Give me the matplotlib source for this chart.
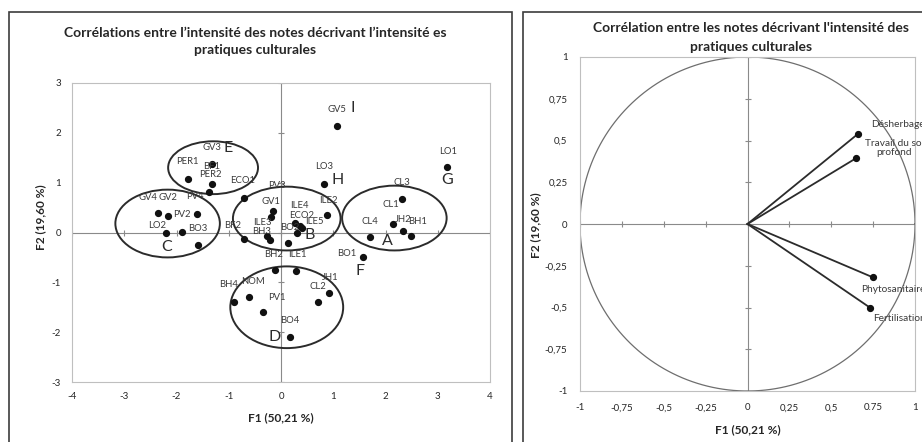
import numpy as np
import matplotlib
matplotlib.use("Agg")
import matplotlib.pyplot as plt
from matplotlib.patches import Ellipse, Rectangle

plt.rcParams['font.family'] = ['Lato', 'DejaVu Sans']
plt.rcParams['axes.unicode_minus'] = False

# --- Observations on the first two factors (F1, F2) ---
obs_names = ["PER1", "GV3", "BF1", "PER2", "ECO1",
             "GV4", "GV2", "PV4", "PV2", "LO2", "BO3",
             "BF2", "GV1", "PV3", "ILE3", "BH3", "ILE4", "ECO2", "ILE5", "", "BO2", "ILE2",
             "CL3", "CL1", "JH2", "BH1", "CL4", "BO1", "LO1", "LO3", "GV5",
             "BH2", "ILE1", "JH1", "CL2", "BH4", "NOM", "PV1", "BO4"]
obs_f1 = [-1.78, -1.32, -1.32, -1.38, -0.71,
          -2.35, -2.16, -1.61, -1.89, -2.20, -1.59,
          -0.71, -0.19, -0.15, -0.27, -0.21, 0.27, 0.36, 0.40, 0.31, 0.13, 0.88,
          2.31, 2.14, 2.33, 2.49, 1.70, 1.57, 3.17, 0.82, 1.07,
          -0.11, 0.29, 0.92, 0.71, -0.90, -0.61, -0.35, 0.17]
obs_f2 = [1.08, 1.38, 0.98, 0.82, 0.70,
          0.40, 0.34, 0.38, 0.02, 0.00, -0.26,
          -0.14, 0.32, 0.44, -0.08, -0.16, 0.20, 0.14, 0.10, 0.00, -0.22, 0.36,
          0.68, 0.18, 0.04, -0.08, -0.10, -0.50, 1.32, 0.98, 2.14,
          -0.76, -0.78, -1.22, -1.40, -1.40, -1.30, -1.60, -2.10]

# label offsets from their point, in pixels (dx, dy up)
label_offsets = [(-1, 17), (0, 16), (0, 17), (1, 17), (-1, 17),
                 (-10, 15), (0, 18), (-2, 17), (0, 17), (-9, 7), (0, 17),
                 (-11, 14), (0, 15), (4, 25), (-5, 14), (-8, 9), (4, 17), (2, 10), (12, 6), (0, 0), (2, 16), (1, 14),
                 (0, 16), (-2, 19), (1, 11), (6, 15), (0, 16), (-16, 4), (1, 15), (0, 17), (0, 16),
                 (-2, 16), (1, 17), (1, 16), (0, 16), (-5, 18), (4, 16), (14, 15), (0, 17)]

# --- Groups ---
group_letters = ["A", "B", "C", "D", "E", "F", "G", "H", "I"]
letter_f1 = [2.03, 0.55, -2.18, -0.13, -1.01, 1.51, 3.17, 1.09, 1.38]
letter_f2 = [-0.18, -0.05, -0.30, -2.10, 1.70, -0.78, 1.06, 1.06, 2.50]

ellipse_center_f1 = [2.17, 0.11, -2.17, 0.11, -1.30]
ellipse_center_f2 = [0.29, 0.28, 0.18, -1.50, 1.30]
ellipse_width = [2.00, 2.06, 2.00, 2.16, 1.72]
ellipse_height = [1.30, 1.28, 1.36, 1.64, 1.06]

# --- Correlation circle ---
var_names = ["Désherbage", "Travail du sol\nprofond", "Phytosanitaire", "Fertilisation"]
var_f1 = [0.66, 0.65, 0.75, 0.73]
var_f2 = [0.54, 0.395, -0.32, -0.50]
var_offsets = [(13, 9), (38, 10), (-12, -12), (3, -11)]
var_align = ["left", "center", "left", "left"]

left_xticks = [-4, -3, -2, -1, 0, 1, 2, 3, 4]
left_yticks = [-3, -2, -1, 0, 1, 2, 3]
right_ticks = [-1, -0.75, -0.5, -0.25, 0, 0.25, 0.5, 0.75, 1]
right_xticklabels = ["-1", "-0,75", "-0,5", "-0,25", "0", "0,25", "0,5", "0.75", "1"]
right_yticklabels = ["-1", "-0,75", "-0,5", "-0,25", "0", "0,25", "0,5", "0,75", "1"]

W, H = 922, 442
fig = plt.figure(figsize=(W / 100, H / 100), dpi=100)


def fbox(x0, y0, x1, y1):
    return [x0 / W, 1 - y1 / H, (x1 - x0) / W, (y1 - y0) / H]


border_grey = "#bfbfbf"
axis_grey = "#8a8a8a"
text_dark = "#262626"


def excel_axes(ax, xticks, yticks):
    for s in ax.spines.values():
        s.set_color(border_grey)
        s.set_linewidth(0.8)
    ax.axhline(0, color=axis_grey, lw=0.8, zorder=1)
    ax.axvline(0, color=axis_grey, lw=0.8, zorder=1)
    ax.plot(xticks, np.zeros(len(xticks)), ls="none", marker="|", ms=5, mew=0.8, color=axis_grey, zorder=1)
    ax.plot(np.zeros(len(yticks)), yticks, ls="none", marker="_", ms=5, mew=0.8, color=axis_grey, zorder=1)
    ax.tick_params(length=0, labelsize=7, colors=text_dark)


# ---------------- left: individuals map ----------------
ax1 = fig.add_axes(fbox(72, 83, 490, 382))
ax1.set_xlim(-4, 4)
ax1.set_ylim(-3, 3)
excel_axes(ax1, left_xticks, left_yticks)
ax1.set_xticks(left_xticks)
ax1.set_yticks(left_yticks)
ax1.tick_params(axis="x", pad=7)
ax1.tick_params(axis="y", pad=8)

for cx, cy, w, h in zip(ellipse_center_f1, ellipse_center_f2, ellipse_width, ellipse_height):
    ax1.add_patch(Ellipse((cx, cy), w, h, fill=False, ec="#2b2b2b", lw=1.4, zorder=2))

ax1.plot(obs_f1, obs_f2, ls="none", marker="o", ms=4.2, color="#111111", zorder=3)
for name, x, y, (dx, dy) in zip(obs_names, obs_f1, obs_f2, label_offsets):
    if not name:
        continue
    ax1.annotate(name, (x, y), xytext=(dx * 0.72, dy * 0.72), textcoords="offset points",
                 ha="center", va="center", fontsize=6.8, color="#3a3a3a", zorder=4)

for letter, x, y in zip(group_letters, letter_f1, letter_f2):
    ax1.text(x, y, letter, ha="center", va="center", fontsize=11.5, color="#2b2b2b", zorder=4)

fig.text(255 / W, 1 - 33 / H, "Corrélations entre l’intensité des notes décrivant l’intensité es",
         ha="center", va="center", fontsize=10, fontweight="bold", color=text_dark)
fig.text(255 / W, 1 - 50 / H, "pratiques culturales",
         ha="center", va="center", fontsize=10, fontweight="bold", color=text_dark)
fig.text(281 / W, 1 - 418 / H, "F1 (50,21 %)", ha="center", va="center",
         fontsize=8.6, fontweight="bold", color=text_dark)
fig.text(41 / W, 1 - 217 / H, "F2 (19,60 %)", ha="center", va="center", rotation=90,
         fontsize=8.6, fontweight="bold", color=text_dark)

# ---------------- right: correlation circle ----------------
ax2 = fig.add_axes(fbox(580, 57, 915, 391))
ax2.set_xlim(-1, 1)
ax2.set_ylim(-1, 1)
excel_axes(ax2, right_ticks, right_ticks)
ax2.set_xticks(right_ticks)
ax2.set_xticklabels(right_xticklabels)
ax2.set_yticks(right_ticks)
ax2.set_yticklabels(right_yticklabels)
ax2.tick_params(axis="x", pad=9)
ax2.tick_params(axis="y", pad=9)

theta = np.linspace(0, 2 * np.pi, 400)
ax2.plot(np.cos(theta), np.sin(theta), color="#6e6e6e", lw=0.9, zorder=2)

for name, x, y, (dx, dy), ha in zip(var_names, var_f1, var_f2, var_offsets, var_align):
    ax2.plot([0, x], [0, y], color="#2b2b2b", lw=1.3, zorder=3)
    ax2.plot(x, y, marker="o", ms=4.2, color="#111111", zorder=3)
    ax2.annotate(name, (x, y), xytext=(dx * 0.72, dy * 0.72), textcoords="offset points",
                 ha=ha, va="center", fontsize=7.3, color="#3a3a3a", annotation_clip=False,
                 linespacing=1.1, zorder=4)

fig.text(751 / W, 1 - 28 / H, "Corrélation entre les notes décrivant l'intensité des",
         ha="center", va="center", fontsize=10, fontweight="bold", color=text_dark)
fig.text(751 / W, 1 - 47 / H, "pratiques culturales",
         ha="center", va="center", fontsize=10, fontweight="bold", color=text_dark)
fig.text(748 / W, 1 - 430 / H, "F1 (50,21 %)", ha="center", va="center",
         fontsize=8.6, fontweight="bold", color=text_dark)
fig.text(536 / W, 1 - 225 / H, "F2 (19,60 %)", ha="center", va="center", rotation=90,
         fontsize=8.6, fontweight="bold", color=text_dark)

# panel frames
for x0, x1 in [(9, 512), (523, 940)]:
    fig.add_artist(Rectangle((x0 / W, 1 - 455 / H), (x1 - x0) / W, (455 - 12) / H,
                             transform=fig.transFigure, fill=False, ec="#3c3c3c", lw=1.2))

fig.savefig("out.png", dpi=100)
